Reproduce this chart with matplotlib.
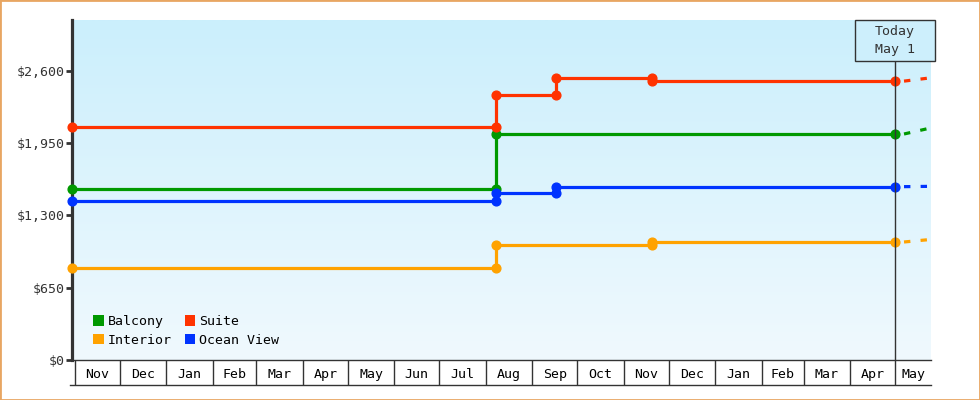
import datetime as dt
import numpy as np
import matplotlib
matplotlib.use("Agg")
import matplotlib.pyplot as plt
import matplotlib.dates as mdates
import matplotlib.transforms as mtransforms
from matplotlib.colors import LinearSegmentedColormap
from matplotlib.patches import Rectangle, Patch

# ---- data ----
start = dt.date(2023, 10, 30)
end = dt.date(2025, 5, 25)
today = dt.date(2025, 5, 1)

names = ["Balcony", "Interior", "Suite", "Ocean View"]
colors = ["#009900", "#ffa200", "#ff3300", "#0033ff"]

# price change dates / prices (price holds until next change)
balcony_dates = [start, dt.date(2024, 8, 8)]
balcony_prices = [1537, 2030]
interior_dates = [start, dt.date(2024, 8, 8), dt.date(2024, 11, 20)]
interior_prices = [828, 1037, 1060]
suite_dates = [start, dt.date(2024, 8, 8), dt.date(2024, 9, 17), dt.date(2024, 11, 20)]
suite_prices = [2090, 2382, 2535, 2505]
ocean_dates = [start, dt.date(2024, 8, 8), dt.date(2024, 9, 17)]
ocean_prices = [1426, 1501, 1557]

# projected price at right edge
forecast = [2085, 1083, 2535, 1560]

months = ["Nov", "Dec", "Jan", "Feb", "Mar", "Apr", "May", "Jun", "Jul", "Aug",
          "Sep", "Oct", "Nov", "Dec", "Jan", "Feb", "Mar", "Apr", "May"]
yticks = [0, 650, 1300, 1950, 2600]
ytick_labels = ["$0", "$650", "$1,300", "$1,950", "$2,600"]

series_dates = [balcony_dates, interior_dates, suite_dates, ocean_dates]
series_prices = [balcony_prices, interior_prices, suite_prices, ocean_prices]

plt.rcParams['font.family'] = ['DejaVu Sans Mono']
ink = "#333333"

fig = plt.figure(figsize=(9.8, 4), dpi=100)
ax = fig.add_axes([72 / 980, 40 / 400, 859 / 980, 340 / 400])

x0, x1 = mdates.date2num(start), mdates.date2num(end)
ymax = 3054

# gradient background
bg = LinearSegmentedColormap.from_list("bg", ["#f0f9fe", "#cbeffc"])
ax.imshow(np.linspace(0, 1, 256).reshape(-1, 1), cmap=bg, origin="lower",
          extent=[x0, x1, 0, ymax], aspect="auto", zorder=0)

tnum = mdates.date2num(today)
for d, p, c, f in zip(series_dates, series_prices, colors, forecast):
    xs, ys = [], []
    for i in range(len(d)):
        if i > 0:
            xs.append(mdates.date2num(d[i]))
            ys.append(p[i - 1])
        xs.append(mdates.date2num(d[i]))
        ys.append(p[i])
    xs.append(tnum)
    ys.append(p[-1])
    ax.plot(xs, ys, color=c, lw=2.3, marker="o", ms=6.3, zorder=3,
            solid_capstyle="butt", clip_on=False)
    ax.plot([tnum + 6, x1], [p[-1], f], color=c, lw=2.3, zorder=3,
            dashes=(2, 3.2), solid_capstyle="butt")

ax.set_xlim(x0, x1)
ax.set_ylim(0, ymax)

# today marker
ax.axvline(tnum, ymin=0, ymax=1 - 40.7 / 340, color=ink, lw=1, zorder=4)
trans = mtransforms.blended_transform_factory(ax.transData, ax.transAxes)
half = 40 / 1.503
ax.add_patch(Rectangle((tnum - half, 1 - 40.7 / 340), 2 * half, 40.7 / 340,
                       transform=trans, facecolor="#cdeffc", edgecolor=ink,
                       lw=1, clip_on=False, zorder=5))
ax.text(tnum, 1 - 20.3 / 340, "Today\nMay 1", transform=trans, ha="center",
        va="center", fontsize=9.5, color=ink, linespacing=1.45, zorder=6)

# month table under the axis
month_starts = []
y, m = 2023, 11
for _ in months:
    month_starts.append(mdates.date2num(dt.date(y, m, 1)))
    m += 1
    if m > 12:
        m, y = 1, y + 1
edges = month_starts + [x1]
mids = [(edges[i] + edges[i + 1]) / 2 for i in range(len(months))]
ax.set_xticks(month_starts)
ax.set_xticklabels([])
ax.set_xticks(mids, minor=True)
ax.set_xticklabels(months, minor=True)
ax.tick_params(axis="x", which="major", length=18, width=1, color=ink)
ax.tick_params(axis="x", which="minor", length=0, pad=5.5, labelsize=9.5,
               labelcolor="black")
ax.plot([-2 / 859, 1], [-25 / 340, -25 / 340], transform=ax.transAxes,
        color=ink, lw=1, clip_on=False)

ax.set_yticks(yticks)
ax.set_yticklabels(ytick_labels)
ax.tick_params(axis="y", length=4.5, width=2, color=ink, pad=1,
               labelsize=9.5, labelcolor=ink)

for s in ["top", "right"]:
    ax.spines[s].set_visible(False)
ax.spines["left"].set_color(ink)
ax.spines["left"].set_linewidth(2.3)
ax.spines["bottom"].set_color(ink)
ax.spines["bottom"].set_linewidth(1)

handles = [Patch(facecolor=c, edgecolor="none") for c in colors]
ax.legend(handles, names, ncol=2, loc="lower left",
          bbox_to_anchor=(21 / 859, 13 / 340), frameon=False, fontsize=9.5,
          handlelength=0.8, handleheight=0.8, handletextpad=0.3,
          columnspacing=1.0, labelspacing=0.45, borderpad=0, borderaxespad=0)

fig.patches.append(Rectangle((0, 0), 1, 1, transform=fig.transFigure,
                             fill=False, edgecolor="#e8a662", lw=2))

fig.savefig("out.png", dpi=100)
